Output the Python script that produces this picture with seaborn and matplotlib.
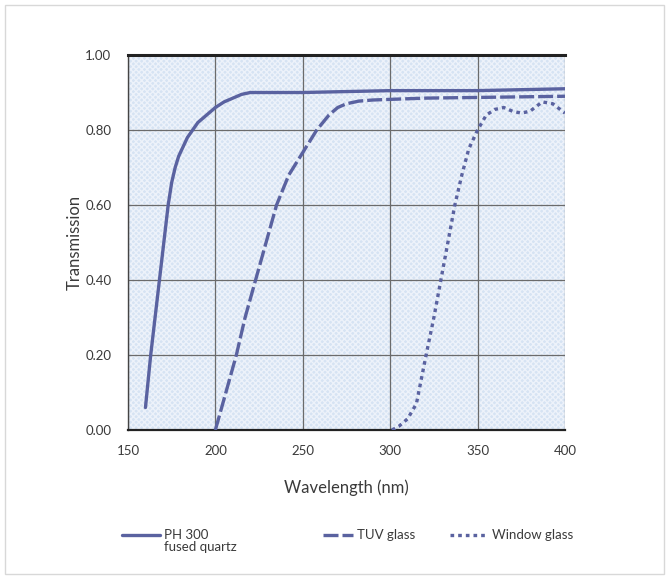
import numpy as np
import pandas as pd
import matplotlib
matplotlib.use("Agg")
import matplotlib.pyplot as plt
from matplotlib.patches import Rectangle
from matplotlib.lines import Line2D
import seaborn as sns

# Transmission curves (wavelength in nm, transmission fraction)
quartz_nm = [160, 163, 168, 173, 175, 177, 179, 182, 184, 187, 190, 195, 200, 205, 210,
             215, 220, 250, 300, 350, 400]
quartz_tr = [0.06, 0.20, 0.40, 0.60, 0.66, 0.70, 0.73, 0.76, 0.78, 0.80, 0.82, 0.84, 0.86,
             0.875, 0.885, 0.895, 0.90, 0.90, 0.905, 0.905, 0.91]

tuv_nm = [200, 206, 212, 217, 223, 229, 235, 242, 250, 258, 265, 270, 275, 282, 290, 320, 400]
tuv_tr = [0.00, 0.10, 0.20, 0.30, 0.40, 0.50, 0.60, 0.68, 0.74, 0.80, 0.84, 0.86, 0.87,
          0.877, 0.88, 0.885, 0.89]

window_nm = [301, 305, 310, 315, 318, 321, 325, 329, 333, 337, 341, 345, 350, 355, 360,
             365, 370, 375, 380, 387, 393, 400]
window_tr = [0.00, 0.01, 0.03, 0.07, 0.14, 0.21, 0.30, 0.40, 0.50, 0.60, 0.68, 0.75, 0.80,
             0.84, 0.855, 0.86, 0.85, 0.845, 0.85, 0.875, 0.87, 0.845]

series_labels = ["PH 300\nfused quartz", "TUV glass", "Window glass"]
x_ticks = [150, 200, 250, 300, 350, 400]
y_ticks = [0.0, 0.2, 0.4, 0.6, 0.8, 1.0]

sns.set_style("white")
plt.rcParams["font.family"] = ["Lato", "DejaVu Sans"]

line_color = "#5a62a0"
grid_color = "#6b6b6b"
text_color = "#3a3a3a"
dash_pattern = [4.5, 1.2]
dot_pattern = [1.1, 1.2]

W, H = 669, 579
fig = plt.figure(figsize=(W / 100, H / 100), dpi=100)
ax = fig.add_axes([0.1913, 0.2573, 0.6532, 0.6477])

# light blue panel with a fine textured fill
ax.set_facecolor("#d6e3f3")
ax.add_patch(Rectangle((0, 0), 1, 1, transform=ax.transAxes, facecolor="none",
                       edgecolor="#edf2fa", hatch="xxxxxx", linewidth=0, zorder=0.5))

q = pd.DataFrame({"nm": quartz_nm, "tr": quartz_tr})
t = pd.DataFrame({"nm": tuv_nm, "tr": tuv_tr})
w = pd.DataFrame({"nm": window_nm, "tr": window_tr})

sns.lineplot(data=q, x="nm", y="tr", ax=ax, color=line_color, linewidth=2.4, zorder=3)
sns.lineplot(data=t, x="nm", y="tr", ax=ax, color=line_color, linewidth=2.4, zorder=3)
sns.lineplot(data=w, x="nm", y="tr", ax=ax, color=line_color, linewidth=2.4, zorder=3)
lines = ax.get_lines()
lines[0].set_solid_joinstyle("round")
lines[1].set_dashes(dash_pattern)
lines[2].set_dashes(dot_pattern)

ax.set_xlim(150, 400)
ax.set_ylim(0, 1.0)
ax.set_xticks(x_ticks)
ax.set_yticks(y_ticks)
ax.set_xticklabels([str(v) for v in x_ticks])
ax.set_yticklabels([f"{v:.2f}" for v in y_ticks])
ax.tick_params(axis="both", length=0, labelsize=9.5, colors=text_color)
ax.tick_params(axis="x", pad=11)
ax.tick_params(axis="y", pad=12)

ax.grid(True, color=grid_color, linewidth=0.9)
ax.set_axisbelow(True)
for g in ax.get_xgridlines() + ax.get_ygridlines():
    g.set_zorder(1)

ax.spines["right"].set_visible(False)
ax.spines["left"].set_color("#444444")
ax.spines["left"].set_linewidth(1.0)
ax.spines["bottom"].set_color("#222222")
ax.spines["bottom"].set_linewidth(1.6)
ax.spines["top"].set_color("#222222")
ax.spines["top"].set_linewidth(2.2)

ax.set_xlabel("Wavelength (nm)", fontsize=12, color=text_color, labelpad=16)
ax.set_ylabel("Transmission", fontsize=12, color=text_color, labelpad=2)

# legend keys along the bottom (pixel positions converted to figure fractions)
def fx(px):
    return px / W

def fy(py):
    return 1 - py / H

legend_y = 535
keys = [(122, 160, None), (323, 353, dash_pattern), (450, 488, dot_pattern)]
for (x0, x1, dashes), label in zip(keys, series_labels):
    key = Line2D([fx(x0), fx(x1)], [fy(legend_y), fy(legend_y)], transform=fig.transFigure,
                 color=line_color, linewidth=2.4)
    if dashes is not None:
        key.set_dashes(dashes)
    fig.add_artist(key)
    fig.text(fx(x1 + 4), fy(legend_y - 6), label, ha="left", va="top", fontsize=9.5,
             color=text_color, linespacing=1.0)

# thin frame round the figure
fig.add_artist(Rectangle((0.008, 0.008), 0.984, 0.984, transform=fig.transFigure,
                         facecolor="none", edgecolor="#d8d8d8", linewidth=1.0))

fig.savefig("out.png", dpi=100)
